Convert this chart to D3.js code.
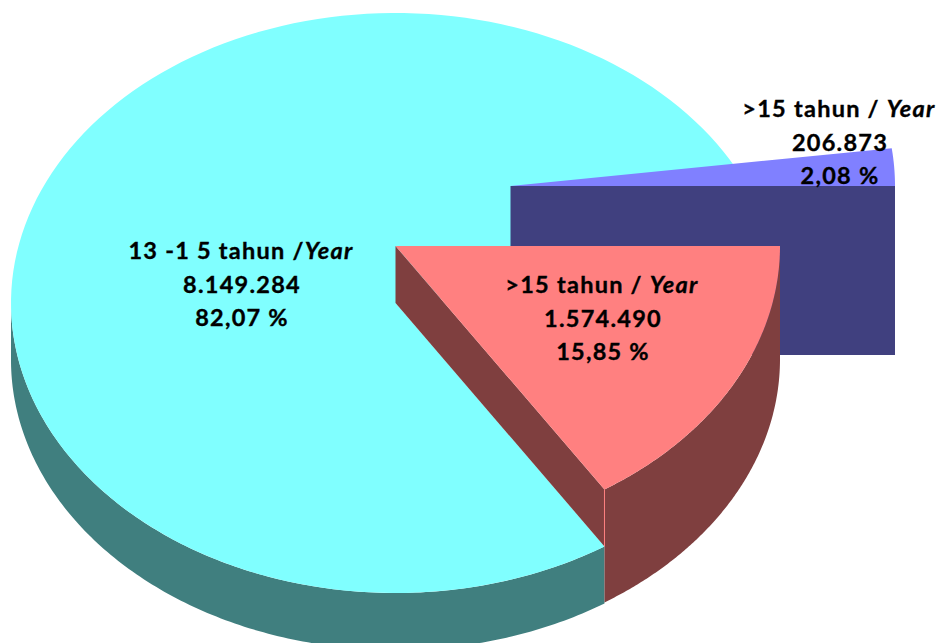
<!DOCTYPE html>
<html><head><meta charset="utf-8">
<script src="https://cdn.jsdelivr.net/npm/d3@7/dist/d3.min.js"></script>
<style>html,body{margin:0;padding:0;background:#fff}svg{display:block}
text{font-family:Lato,"Open Sans",sans-serif;font-weight:700;font-size:23.5px;fill:#000;stroke:#000;stroke-width:.35px;text-anchor:middle;letter-spacing:1.25px}</style>
</head><body><svg id="c" width="942" height="643"></svg>
<script>
const categories = [">15 tahun / ", "13 -1 5 tahun /", ">15 tahun / "];
const categorySuffix = ["Year", "Year", "Year"];
const values = [1574490, 8149284, 206873];
const valueLabels = ["1.574.490", "8.149.284", "206.873"];
const percentLabels = ["15,85 %", "82,07 %", "2,08 %"];
const topColors = ["#ff8080", "#80ffff", "#8080ff"];
const sideColors = ["#7f3f3f", "#407f7f", "#40407f"];

const W = 942, H = 643, RX = 384.5, RY = 290;
// geometry of each exploded slice: pivot and extrusion depth, in chart order
const layout = [
  {cx: 395.5, cy: 246, depth: 113, cutDepth: 57, lx: 602, ly: 293},
  {cx: 395.5, cy: 303, depth: 57, cutDepth: 0, lx: 241, ly: 259},
  {cx: 510.5, cy: 186, depth: 169, cutDepth: 169, lx: 839, ly: 117}
];
const svg = d3.select("#c");
// pie starts pointing east, sweeping clockwise
const pie = d3.pie().sort(null).startAngle(Math.PI/2).endAngle(Math.PI/2 + 2*Math.PI);
const arcs = pie(values);
const xr = d3.scaleLinear().domain([0,1]).range([0,RX]);
const yr = d3.scaleLinear().domain([0,1]).range([0,RY]);
const pt = (a, L, dy=0) => [L.cx + xr(Math.sin(a)), L.cy - yr(Math.cos(a)) + dy];
const line = d3.line();
const sweep = (a0, a1, L, dy=0) => d3.range(0, 161).map(i => pt(a0 + (a1-a0)*i/160, L, dy));
const topPath = (d, L) => line([[L.cx, L.cy], ...sweep(d.startAngle, d.endAngle, L)]) + "Z";
// visible outer wall: only the part of the rim that faces the viewer (lower half)
function outerWall(d, L) {
  const a0 = Math.max(d.startAngle, Math.PI/2), a1 = Math.min(d.endAngle, 3*Math.PI/2);
  if (a1 <= a0) return null;
  return line([...sweep(a0, a1, L), ...sweep(a1, a0, L, L.depth)]) + "Z";
}
function drawSlice(i) {
  const d = arcs[i], L = layout[i];
  const w = outerWall(d, L);
  if (w) svg.append("path").attr("d", w).attr("fill", sideColors[i]);
}
// cyan body
drawSlice(1);
svg.append("path").attr("d", topPath(arcs[1], layout[1])).attr("fill", topColors[1]);
// blue: flat cut wall along its eastern edge, then the top
{
  const L = layout[2];
  svg.append("path").attr("fill", sideColors[2])
    .attr("d", line([[L.cx, L.cy], pt(Math.PI/2, L), pt(Math.PI/2, L, L.depth), [L.cx, L.cy + L.depth]]) + "Z");
  svg.append("path").attr("d", topPath(arcs[2], L)).attr("fill", topColors[2]);
}
// red: outer wall, cut wall along its far radial edge, then the top
drawSlice(0);
{
  const L = layout[0], a = arcs[0].endAngle, e = pt(a, L);
  svg.append("path").attr("fill", sideColors[0])
    .attr("d", line([[L.cx, L.cy], e, pt(a, L, L.cutDepth), [L.cx, L.cy + L.cutDepth]]) + "Z");
  svg.append("path").attr("d", line([e, pt(a, L, L.cutDepth)]))
    .attr("stroke", "#ff8080").attr("stroke-width", 1).attr("fill", "none");
  svg.append("path").attr("d", topPath(arcs[0], L)).attr("fill", topColors[0]);
}
// labels
categories.forEach((c, i) => {
  const L = layout[i];
  const t = svg.append("text").attr("x", L.lx).attr("y", L.ly);
  t.append("tspan").text(c);
  t.append("tspan").attr("font-style", "italic").text(categorySuffix[i]);
  svg.append("text").attr("x", L.lx + (i===2?1:1)).attr("y", L.ly + 33.5).text(valueLabels[i]);
  svg.append("text").attr("x", L.lx + (i===2?1:1)).attr("y", L.ly + 67).text(percentLabels[i]);
});
</script></body></html>
